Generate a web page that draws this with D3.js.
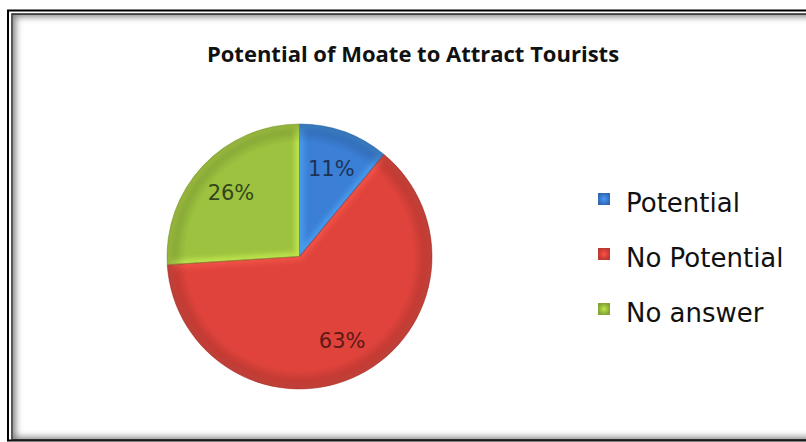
<!DOCTYPE html>
<html>
<head>
<meta charset="utf-8">
<script src="https://cdn.jsdelivr.net/npm/d3@7"></script>
<style>
  html, body { margin: 0; padding: 0; background: #fff; }
  svg { display: block; }
</style>
</head>
<body>
<svg id="chart" width="806" height="442"></svg>
<script>
// Survey answers
const categories = ["Potential", "No Potential", "No answer"];
const values = [11, 63, 26];
const labels = ["11%", "63%", "26%"];
const fills = ["#3b7fd6", "#df433b", "#9cc23f"];
const darks = ["#1c3358", "#5e1a17", "#34461a"];
const title = "Potential of Moate to Attract Tourists";

const svg = d3.select("#chart");
const W = 806, H = 442;
const defs = svg.append("defs");

// Frame: double black border with a soft inner shadow
const innerClip = defs.append("clipPath").attr("id", "innerArea");
innerClip.append("rect").attr("x", 13).attr("y", 14).attr("width", W).attr("height", 426);
const shadowBlur = defs.append("filter").attr("id", "shadowBlur")
  .attr("x", "-5%").attr("y", "-5%").attr("width", "110%").attr("height", "110%");
shadowBlur.append("feGaussianBlur").attr("stdDeviation", 3.5);

svg.append("rect").attr("x", 0).attr("y", 0).attr("width", W).attr("height", H).attr("fill", "#fff");
svg.append("g").attr("clip-path", "url(#innerArea)")
  .append("rect")
  .attr("x", 11).attr("y", 12).attr("width", W + 20).attr("height", 430)
  .attr("fill", "none").attr("stroke", "#7a7a7a").attr("stroke-width", 9)
  .attr("filter", "url(#shadowBlur)");
svg.append("rect").attr("x", 8).attr("y", 10.5).attr("width", W + 20).attr("height", 430)
  .attr("fill", "none").attr("stroke", "#000").attr("stroke-width", 2);
svg.append("rect").attr("x", 12).attr("y", 14).attr("width", W + 20).attr("height", 426)
  .attr("fill", "none").attr("stroke", "#222").attr("stroke-width", 1.5);

// Title
svg.append("text")
  .attr("x", 413).attr("y", 62)
  .attr("text-anchor", "middle")
  .attr("font-family", "'Open Sans', sans-serif")
  .attr("font-weight", "bold")
  .attr("font-size", 22)
  .attr("fill", "#111")
  .text(title);

// Pie geometry
const cx = 299.5, cy = 256.5, R = 132.5;
const pie = d3.pie().sort(null).value(d => d)(values);
const arc = d3.arc().innerRadius(0).outerRadius(R);
const labelArc = d3.arc().innerRadius(94).outerRadius(94);

// Soft blur used for the bevel edges
const edgeBlur = defs.append("filter").attr("id", "edgeBlur")
  .attr("x", "-10%").attr("y", "-10%").attr("width", "120%").attr("height", "120%");
edgeBlur.append("feGaussianBlur").attr("stdDeviation", 2.5);

// Rim shading: slightly darker toward the outside of the pie
const rim = defs.append("radialGradient").attr("id", "rim")
  .attr("gradientUnits", "userSpaceOnUse").attr("cx", 0).attr("cy", 0).attr("r", R);
rim.append("stop").attr("offset", "0.86").attr("stop-color", "#000").attr("stop-opacity", 0);
rim.append("stop").attr("offset", "1").attr("stop-color", "#000").attr("stop-opacity", 0.22);

const g = svg.append("g").attr("transform", `translate(${cx},${cy})`);

pie.forEach((d, i) => {
  defs.append("clipPath").attr("id", "slice" + i)
    .append("path").attr("d", arc(d)).attr("transform", `translate(${cx},${cy})`);
});

const slices = g.selectAll("g.slice")
  .data(pie)
  .join("g")
  .attr("class", "slice");

slices.append("path")
  .attr("d", arc)
  .attr("fill", (d, i) => fills[i]);

// Light bevel along every edge of the slice, clipped inside it
slices.each(function (d, i) {
  const s = d3.select(this).append("g")
    .attr("transform", `translate(${-cx},${-cy})`)
    .attr("clip-path", `url(#slice${i})`)
    .append("g")
    .attr("transform", `translate(${cx},${cy})`);
  s.append("path")
    .attr("d", arc(d))
    .attr("fill", "none")
    .attr("stroke", d3.color(fills[i]).brighter(0.9))
    .attr("stroke-width", 9)
    .attr("stroke-opacity", 0.55)
    .attr("filter", "url(#edgeBlur)");
  s.append("path")
    .attr("d", arc(d))
    .attr("fill", "url(#rim)");
});

g.selectAll("path.edge")
  .data(pie)
  .join("path")
  .attr("class", "edge")
  .attr("d", arc)
  .attr("fill", "none")
  .attr("stroke", (d, i) => d3.color(fills[i]).darker(1))
  .attr("stroke-width", 0.8)
  .attr("stroke-opacity", 0.6);

g.selectAll("text.pct")
  .data(pie)
  .join("text")
  .attr("class", "pct")
  .attr("transform", d => `translate(${labelArc.centroid(d)})`)
  .attr("text-anchor", "middle")
  .attr("dy", "0.36em")
  .attr("font-family", "'DejaVu Sans', sans-serif")
  .attr("font-size", 21)
  .attr("fill", (d, i) => darks[i])
  .text((d, i) => labels[i]);

// Legend
const legendY = d3.scalePoint().domain(categories).range([212, 322]);
const lg = svg.append("g");
categories.forEach((c, i) => {
  const grad = defs.append("radialGradient").attr("id", "lg" + i);
  grad.append("stop").attr("offset", "0%").attr("stop-color", d3.color(fills[i]).brighter(0.5));
  grad.append("stop").attr("offset", "100%").attr("stop-color", d3.color(fills[i]).darker(0.5));
  const y = legendY(c);
  lg.append("rect")
    .attr("x", 598).attr("y", y - 19).attr("width", 12).attr("height", 12)
    .attr("fill", `url(#lg${i})`);
  lg.append("text")
    .attr("x", 626).attr("y", y)
    .attr("font-family", "'DejaVu Sans', sans-serif")
    .attr("font-size", 26)
    .attr("fill", "#111")
    .text(c);
});
</script>
</body>
</html>
